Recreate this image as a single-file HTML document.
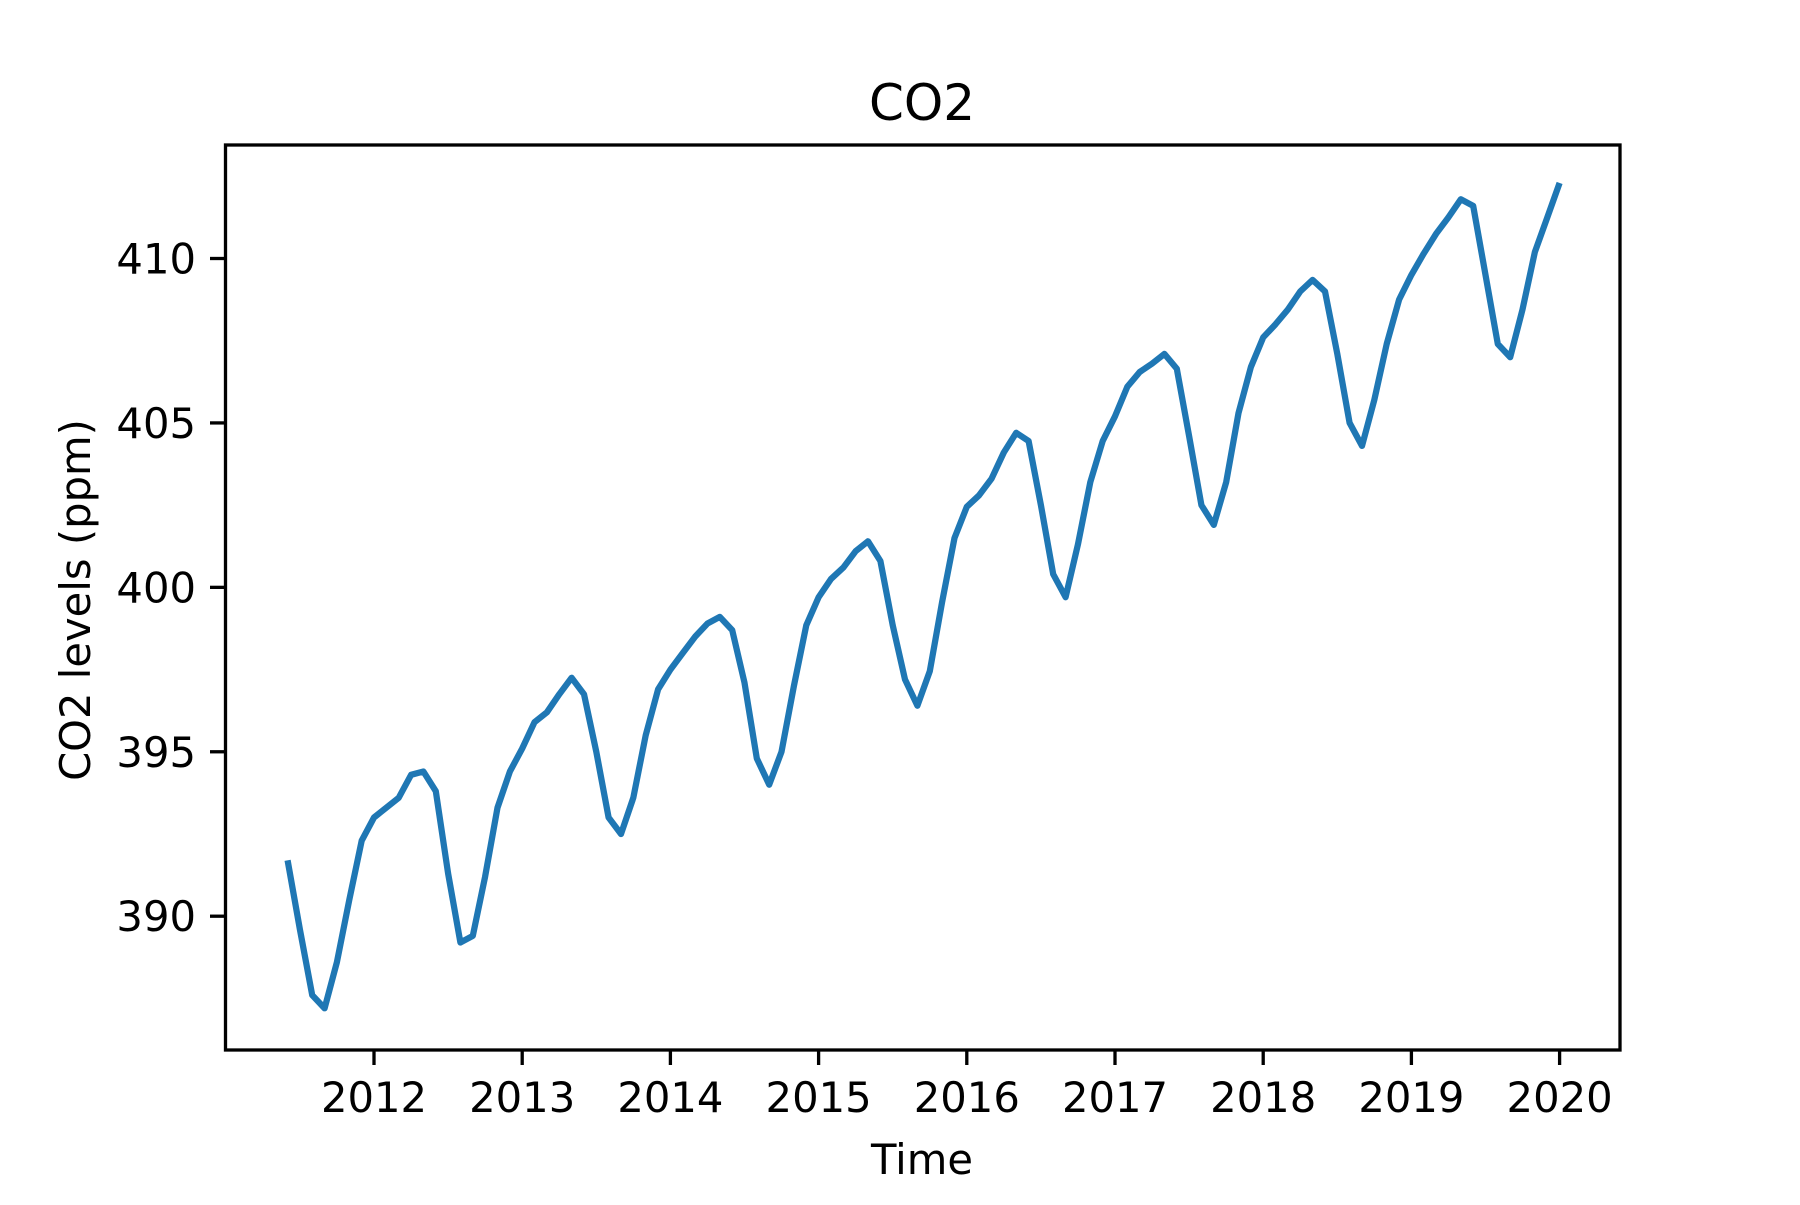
<!DOCTYPE html>
<html><head><meta charset="utf-8"><style>
html,body{margin:0;padding:0;background:#fff;}
svg text{font-family:"DejaVu Sans","Liberation Sans",sans-serif;fill:#000;}
</style></head><body>
<svg id="chart" width="1800" height="1200" xmlns="http://www.w3.org/2000/svg">
<rect width="1800" height="1200" fill="#fff"/>
<text x="922" y="120" font-size="50" text-anchor="middle">CO2</text>
<text x="922" y="1174" font-size="41.7" text-anchor="middle">Time</text>
<text transform="translate(90,600) rotate(-90)" font-size="41.7" text-anchor="middle">CO2 levels (ppm)</text>
<g id="xticks"></g>
<g id="yticks"></g>
<polyline id="line" fill="none" stroke="#1f77b4" stroke-width="6.25" stroke-linejoin="round"/>
<rect x="225.5" y="145" width="1394.5" height="905" fill="none" stroke="#000" stroke-width="3.3"/>
</svg>
<script>
const startYear = 2011, startMonth = 5; // June 2011 (0-based month)
const co2Values = [
391.7,389.6,387.6,387.2,388.6,390.5,392.3,
393.0,393.3,393.6,394.3,394.4,393.8,391.3,389.2,389.4,391.2,393.3,394.4,
395.1,395.9,396.2,396.75,397.25,396.75,395.0,393.0,392.5,393.6,395.5,396.9,
397.5,398.0,398.5,398.9,399.1,398.7,397.1,394.8,394.0,395.0,397.0,398.85,
399.7,400.25,400.6,401.1,401.4,400.8,398.85,397.2,396.4,397.45,399.55,401.5,
402.45,402.8,403.3,404.1,404.7,404.45,402.5,400.4,399.7,401.3,403.2,404.45,
405.2,406.1,406.55,406.8,407.1,406.65,404.6,402.5,401.9,403.2,405.3,406.7,
407.6,408.0,408.45,409.0,409.35,409.0,407.1,405.0,404.3,405.7,407.4,408.75,
409.5,410.15,410.75,411.25,411.8,411.6,409.5,407.4,407.0,408.45,410.2,411.25,
412.3];
const xTickLabels = [2012,2013,2014,2015,2016,2017,2018,2019,2020];
const yTickLabels = [390,395,400,405,410];

const NS = "http://www.w3.org/2000/svg";
function xScale(t){ return 374 + (t-2012)*148.2; }
function yScale(v){ return 258.5 + (410-v)*32.885; }

const pts = co2Values.map((v,i)=>{
  const t = startYear + (startMonth+i)/12;
  return xScale(t).toFixed(1)+","+yScale(v).toFixed(1);
});
document.getElementById('line').setAttribute('points', pts.join(' '));

const xg = document.getElementById('xticks');
xTickLabels.forEach(yr=>{
  const x = xScale(yr);
  const l = document.createElementNS(NS,'line');
  l.setAttribute('x1',x); l.setAttribute('x2',x);
  l.setAttribute('y1',1050); l.setAttribute('y2',1065);
  l.setAttribute('stroke','#000'); l.setAttribute('stroke-width','3.3');
  
  
  xg.appendChild(l);
  const tx = document.createElementNS(NS,'text');
  tx.setAttribute('x',x); tx.setAttribute('y',1112);
  tx.setAttribute('font-size','41.7'); tx.setAttribute('text-anchor','middle');
  tx.textContent = yr;
  
  
  xg.appendChild(tx);
});
const yg = document.getElementById('yticks');
yTickLabels.forEach(v=>{
  const y = yScale(v);
  const l = document.createElementNS(NS,'line');
  l.setAttribute('x1',210); l.setAttribute('x2',225);
  l.setAttribute('y1',y); l.setAttribute('y2',y);
  l.setAttribute('stroke','#000'); l.setAttribute('stroke-width','3.3');
  
  
  yg.appendChild(l);
  const tx = document.createElementNS(NS,'text');
  tx.setAttribute('x',196); tx.setAttribute('y',y+15);
  tx.setAttribute('font-size','41.7'); tx.setAttribute('text-anchor','end');
  tx.textContent = v;
  
  
  yg.appendChild(tx);
});
</script>
</body></html>
